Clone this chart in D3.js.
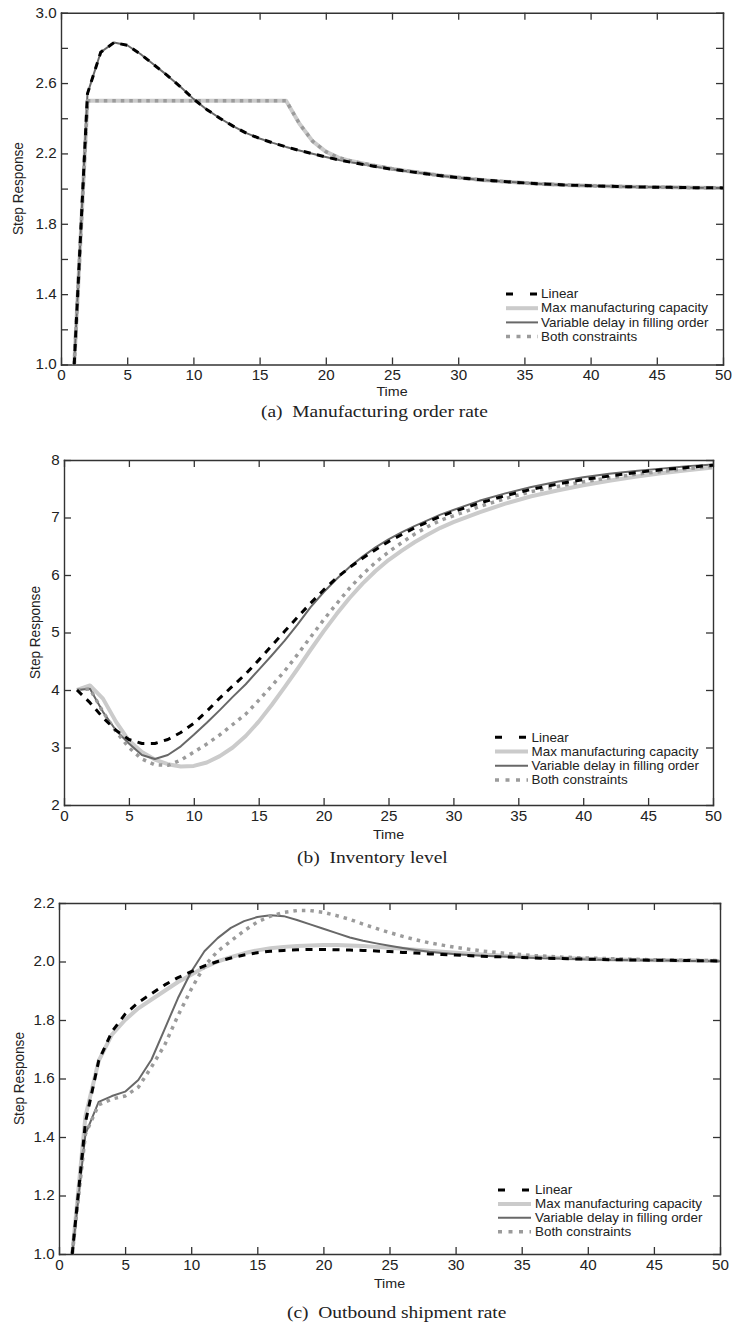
<!DOCTYPE html>
<html>
<head>
<meta charset="utf-8">
<script src="https://cdn.jsdelivr.net/npm/d3@7"></script>
<style>
  body { margin: 0; background: #fff; }
  svg { display: block; }
  text { font-family: "Liberation Sans", Arial, sans-serif; fill: #222; }
  .caption { font-family: "Liberation Serif", "Times New Roman", serif; }
</style>
</head>
<body>
<div id="app"></div>
<script>
const time = [1, 2, 3, 4, 5, 6, 7, 8, 9, 10, 11, 12, 13, 14, 15, 16, 17, 18, 19, 20,
  21, 22, 23, 24, 25, 26, 27, 28, 29, 30, 32, 34, 36, 38, 40, 42, 44, 46, 48, 50];

const seriesNames = ["Linear", "Max manufacturing capacity", "Variable delay in filling order", "Both constraints"];

// (a) Manufacturing order rate
const linearA = [1.0, 2.54, 2.775, 2.83, 2.815, 2.765, 2.705, 2.645, 2.58, 2.51,
  2.45, 2.40, 2.355, 2.315, 2.285, 2.26, 2.237, 2.217, 2.198, 2.18,
  2.163, 2.148, 2.135, 2.122, 2.11, 2.1, 2.09, 2.08, 2.07, 2.062,
  2.048, 2.037, 2.028, 2.021, 2.016, 2.012, 2.009, 2.007, 2.005, 2.004];
const maxCapA = [1.0, 2.5, 2.5, 2.5, 2.5, 2.5, 2.5, 2.5, 2.5, 2.5,
  2.5, 2.5, 2.5, 2.5, 2.5, 2.5, 2.5, 2.37, 2.27, 2.21,
  2.175, 2.155, 2.14, 2.126, 2.113, 2.102, 2.091, 2.081, 2.071, 2.063,
  2.048, 2.037, 2.028, 2.021, 2.016, 2.012, 2.009, 2.007, 2.005, 2.004];
const varDelayA = [1.0, 2.54, 2.775, 2.83, 2.815, 2.765, 2.705, 2.645, 2.58, 2.51,
  2.45, 2.40, 2.355, 2.315, 2.285, 2.26, 2.237, 2.217, 2.198, 2.18,
  2.163, 2.148, 2.135, 2.122, 2.11, 2.1, 2.09, 2.08, 2.07, 2.062,
  2.048, 2.037, 2.028, 2.021, 2.016, 2.012, 2.009, 2.007, 2.005, 2.004];
const bothA = [1.0, 2.5, 2.5, 2.5, 2.5, 2.5, 2.5, 2.5, 2.5, 2.5,
  2.5, 2.5, 2.5, 2.5, 2.5, 2.5, 2.5, 2.37, 2.27, 2.21,
  2.175, 2.155, 2.14, 2.126, 2.113, 2.102, 2.091, 2.081, 2.071, 2.063,
  2.048, 2.037, 2.028, 2.021, 2.016, 2.012, 2.009, 2.007, 2.005, 2.004];

// (b) Inventory level
const linearB = [4.0, 3.78, 3.52, 3.30, 3.14, 3.07, 3.07, 3.14, 3.26, 3.42,
  3.63, 3.86, 4.07, 4.28, 4.52, 4.77, 5.02, 5.27, 5.51, 5.74,
  5.95, 6.13, 6.29, 6.44, 6.58, 6.70, 6.82, 6.92, 7.02, 7.10,
  7.25, 7.38, 7.49, 7.58, 7.66, 7.72, 7.78, 7.83, 7.87, 7.91];
const maxCapB = [4.0, 4.08, 3.85, 3.45, 3.12, 2.92, 2.79, 2.71, 2.67, 2.68,
  2.74, 2.85, 3.0, 3.20, 3.45, 3.74, 4.05, 4.37, 4.70, 5.02,
  5.32, 5.60, 5.85, 6.07, 6.26, 6.42, 6.57, 6.70, 6.82, 6.92,
  7.09, 7.24, 7.37, 7.47, 7.56, 7.64, 7.71, 7.77, 7.82, 7.87];
const varDelayB = [4.0, 4.02, 3.62, 3.30, 3.07, 2.87, 2.80, 2.87, 3.02, 3.22,
  3.43, 3.65, 3.88, 4.10, 4.35, 4.60, 4.86, 5.14, 5.44, 5.70,
  5.93, 6.14, 6.32, 6.48, 6.62, 6.74, 6.85, 6.95, 7.05, 7.13,
  7.29, 7.42, 7.53, 7.62, 7.70, 7.76, 7.81, 7.85, 7.89, 7.92];
const bothB = [4.0, 4.02, 3.62, 3.28, 3.0, 2.80, 2.70, 2.69, 2.78, 2.92,
  3.06, 3.22, 3.40, 3.58, 3.82, 4.07, 4.33, 4.62, 4.92, 5.22,
  5.50, 5.77, 6.01, 6.22, 6.40, 6.56, 6.71, 6.84, 6.95, 7.03,
  7.19, 7.33, 7.45, 7.54, 7.62, 7.69, 7.75, 7.80, 7.85, 7.89];

// (c) Outbound shipment rate
const linearC = [1.0, 1.45, 1.66, 1.76, 1.82, 1.86, 1.89, 1.92, 1.945, 1.965,
  1.985, 2.0, 2.012, 2.022, 2.03, 2.035, 2.038, 2.04, 2.041, 2.041,
  2.04, 2.039, 2.038, 2.036, 2.034, 2.031, 2.029, 2.026, 2.024, 2.022,
  2.018, 2.015, 2.012, 2.01, 2.008, 2.006, 2.005, 2.004, 2.003, 2.002];
const maxCapC = [1.0, 1.47, 1.66, 1.75, 1.80, 1.84, 1.87, 1.90, 1.93, 1.955,
  1.98, 2.0, 2.015, 2.028, 2.038, 2.045, 2.05, 2.053, 2.055, 2.056,
  2.056, 2.055, 2.053, 2.05, 2.047, 2.044, 2.04, 2.037, 2.033, 2.03,
  2.024, 2.019, 2.015, 2.012, 2.009, 2.007, 2.005, 2.004, 2.003, 2.002];
const varDelayC = [1.0, 1.41, 1.52, 1.54, 1.555, 1.595, 1.665, 1.77, 1.875, 1.965,
  2.035, 2.08, 2.115, 2.138, 2.152, 2.158, 2.155, 2.142, 2.127, 2.112,
  2.097, 2.082, 2.071, 2.062, 2.054, 2.046, 2.039, 2.033, 2.029, 2.025,
  2.02, 2.016, 2.012, 2.01, 2.007, 2.005, 2.004, 2.003, 2.002, 2.001];
const bothC = [1.0, 1.41, 1.51, 1.53, 1.54, 1.57, 1.64, 1.715, 1.815, 1.905,
  1.985, 2.035, 2.07, 2.105, 2.135, 2.155, 2.168, 2.174, 2.174, 2.168,
  2.157, 2.144, 2.128, 2.113, 2.099, 2.086, 2.074, 2.064, 2.056, 2.048,
  2.036, 2.027, 2.02, 2.015, 2.012, 2.009, 2.007, 2.005, 2.004, 2.003];

const xTicks = [0, 5, 10, 15, 20, 25, 30, 35, 40, 45, 50];
const yTicksA = [1.0, 1.2, 1.4, 1.6, 1.8, 2.0, 2.2, 2.4, 2.6, 2.8, 3.0];
const yLabelsA = [1.0, 1.4, 1.8, 2.2, 2.6, 3.0];
const yTicksB = [2, 3, 4, 5, 6, 7, 8];
const yTicksC = [1.0, 1.2, 1.4, 1.6, 1.8, 2.0, 2.2];

const captions = ["(a)  Manufacturing order rate", "(b)  Inventory level", "(c)  Outbound shipment rate"];

const styles = [
  { color: "#000", width: 3, dash: "7,6.5", legendDash: "7,17" },
  { color: "#cbcbcb", width: 4, dash: null, legendDash: null },
  { color: "#686868", width: 2, dash: null, legendDash: null },
  { color: "#9b9b9b", width: 3.5, dash: "3.5,5", legendDash: "4,6.5" }
];
const drawOrder = [1, 2, 3, 0];
const stretch = 1.1;

const panels = [
  { series: [linearA, maxCapA, varDelayA, bothA], left: 61, right: 723, top: 12.7, bottom: 364.5,
    yDomain: [1, 3], yTicks: yTicksA, yLabels: yLabelsA, fmt: d3.format(".1f"),
    legend: { x0: 506, x1: 538, tx: 541, y: 294, dy: 14.2 },
    timeY: 391, stepX: 18, caption: captions[0], capX: 261, capY: 411 },
  { series: [linearB, maxCapB, varDelayB, bothB], left: 64, right: 713, top: 460, bottom: 805,
    yDomain: [2, 8], yTicks: yTicksB, yLabels: yTicksB, fmt: d3.format("d"),
    legend: { x0: 495, x1: 528, tx: 531.5, y: 737.3, dy: 14.2 },
    timeY: 834, stepX: 35, caption: captions[1], capX: 297, capY: 857 },
  { series: [linearC, maxCapC, varDelayC, bothC], left: 59, right: 720, top: 903, bottom: 1254,
    yDomain: [1, 2.2], yTicks: yTicksC, yLabels: yTicksC, fmt: d3.format(".1f"),
    legend: { x0: 498, x1: 531, tx: 535, y: 1190, dy: 13.9 },
    timeY: 1283, stepX: 19, caption: captions[2], capX: 287, capY: 1312 }
];

const svg = d3.select("#app").append("svg").attr("width", 733).attr("height", 1328);

function styleAxis(g) {
  g.selectAll(".domain").attr("stroke", "#333").attr("stroke-width", 1.4);
  g.selectAll(".tick line").attr("stroke", "#333").attr("stroke-width", 1.3);
  g.selectAll(".tick text").attr("fill", "#222").style("font-size", "13.8px")
    .attr("transform", `scale(${stretch},1)`);
}

panels.forEach((p) => {
  const x = d3.scaleLinear().domain([0, 50]).range([p.left, p.right]);
  const y = d3.scaleLinear().domain(p.yDomain).range([p.bottom, p.top]);
  const g = svg.append("g");
  const isLabel = (d) => p.yLabels.some((v) => Math.abs(v - d) < 1e-6);

  g.append("g").attr("transform", `translate(0,${p.bottom})`)
    .call(d3.axisBottom(x).tickValues(xTicks).tickSizeInner(-7).tickSizeOuter(0).tickPadding(6))
    .call(styleAxis);
  g.append("g").attr("transform", `translate(0,${p.top})`)
    .call(d3.axisTop(x).tickValues(xTicks).tickSizeInner(-7).tickSizeOuter(0).tickFormat(""))
    .call(styleAxis);
  g.append("g").attr("transform", `translate(${p.left},0)`)
    .call(d3.axisLeft(y).tickValues(p.yTicks).tickSizeInner(-7).tickSizeOuter(0).tickPadding(4)
      .tickFormat((d) => (isLabel(d) ? p.fmt(d) : "")))
    .call(styleAxis);
  g.append("g").attr("transform", `translate(${p.right},0)`)
    .call(d3.axisRight(y).tickValues(p.yTicks).tickSizeInner(-7).tickSizeOuter(0).tickFormat(""))
    .call(styleAxis);
  g.selectAll(".domain").attr("stroke-linecap", "square");

  const line = d3.line().x((d, i) => x(time[i])).y((d) => y(d));
  drawOrder.forEach((k) => {
    const s = styles[k];
    g.append("path")
      .datum(p.series[k])
      .attr("d", line)
      .attr("fill", "none")
      .attr("stroke", s.color)
      .attr("stroke-width", s.width)
      .attr("stroke-dasharray", s.dash)
      .attr("stroke-linejoin", "round");
  });

  // legend
  const lg = g.append("g");
  seriesNames.forEach((name, i) => {
    const s = styles[i];
    const ly = p.legend.y + i * p.legend.dy;
    lg.append("line")
      .attr("x1", p.legend.x0).attr("x2", p.legend.x1)
      .attr("y1", ly).attr("y2", ly)
      .attr("stroke", s.color)
      .attr("stroke-width", s.width)
      .attr("stroke-dasharray", s.legendDash);
    lg.append("text")
      .attr("transform", `translate(${p.legend.tx},${ly}) scale(${stretch},1)`)
      .attr("dy", "0.35em")
      .style("font-size", "12.2px")
      .text(name);
  });

  g.append("text")
    .attr("transform", `translate(${(p.left + p.right) / 2},${p.timeY}) scale(${stretch},1)`)
    .attr("text-anchor", "middle")
    .attr("dy", "0.35em")
    .style("font-size", "13px")
    .text("Time");

  g.append("text")
    .attr("transform", `translate(${p.stepX},${(p.top + p.bottom) / 2}) scale(${stretch},1) rotate(-90)`)
    .attr("text-anchor", "middle")
    .attr("dy", "0.35em")
    .style("font-size", "13.6px")
    .text("Step Response");

  g.append("text")
    .attr("class", "caption")
    .attr("transform", `translate(${p.capX},${p.capY}) scale(${stretch},1)`)
    .attr("dy", "0.33em")
    .style("font-size", "17.7px")
    .style("white-space", "pre")
    .attr("xml:space", "preserve")
    .text(p.caption);
});
</script>
</body>
</html>
